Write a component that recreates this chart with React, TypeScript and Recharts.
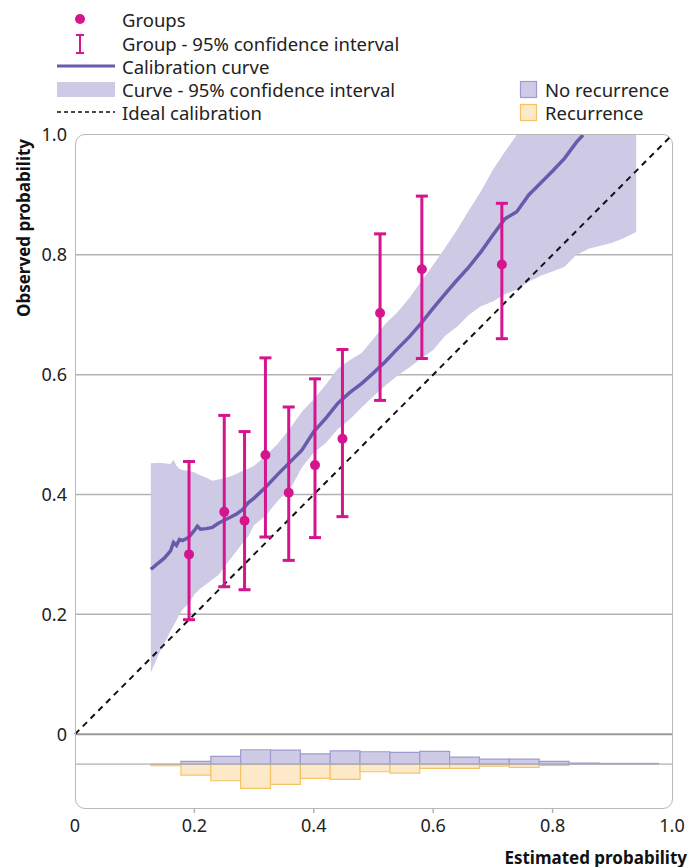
import React from "react";
import {
  ComposedChart,
  Area,
  Line,
  Scatter,
  ErrorBar,
  XAxis,
  YAxis,
  CartesianGrid,
  ReferenceLine,
  ReferenceArea,
} from "recharts";

// ---------- Calibration curve and its 95% confidence band ----------
const curveX = [
  0.127, 0.14, 0.15, 0.16, 0.165, 0.17, 0.175, 0.18, 0.19, 0.2, 0.205, 0.21, 0.22, 0.23, 0.24,
  0.25, 0.26, 0.27, 0.28, 0.29, 0.3, 0.32, 0.34, 0.36, 0.38, 0.4, 0.42, 0.44, 0.46, 0.48, 0.5,
  0.52, 0.54, 0.56, 0.58, 0.6, 0.62, 0.64, 0.66, 0.68, 0.7, 0.72, 0.74, 0.76, 0.78, 0.8, 0.82,
  0.84, 0.851, 0.86, 0.88, 0.9, 0.92, 0.94,
];
const curveCal: (number | null)[] = [
  0.275, 0.286, 0.294, 0.306, 0.32, 0.315, 0.325, 0.323, 0.328, 0.34, 0.347, 0.342, 0.343, 0.345,
  0.352, 0.357, 0.362, 0.367, 0.374, 0.386, 0.394, 0.413, 0.434, 0.454, 0.474, 0.505, 0.527,
  0.552, 0.57, 0.585, 0.603, 0.622, 0.643, 0.663, 0.686, 0.711, 0.735, 0.758, 0.78, 0.805, 0.833,
  0.86, 0.872, 0.9, 0.92, 0.94, 0.961, 0.988, 1.0, null, null, null, null, null,
];
const bandLo = [
  0.103, 0.133, 0.152, 0.172, 0.181, 0.19, 0.2, 0.208, 0.217, 0.233, 0.238, 0.243, 0.25, 0.258,
  0.265, 0.279, 0.292, 0.305, 0.318, 0.33, 0.349, 0.365, 0.39, 0.408, 0.445, 0.47, 0.486, 0.509,
  0.525, 0.545, 0.564, 0.582, 0.598, 0.612, 0.627, 0.641, 0.665, 0.68, 0.7, 0.714, 0.722, 0.734,
  0.742, 0.755, 0.765, 0.772, 0.78, 0.8, 0.805, 0.81, 0.815, 0.82, 0.828, 0.838,
];
const bandHi = [
  0.452, 0.453, 0.452, 0.451, 0.458, 0.448, 0.443, 0.441, 0.439, 0.437, 0.434, 0.432, 0.428,
  0.423, 0.425, 0.427, 0.43, 0.434, 0.439, 0.443, 0.448, 0.465, 0.485, 0.51, 0.538, 0.559, 0.583,
  0.61, 0.624, 0.636, 0.66, 0.685, 0.704, 0.728, 0.756, 0.783, 0.812, 0.842, 0.875, 0.906, 0.942,
  0.972, 1.0, 1.0, 1.0, 1.0, 1.0, 1.0, 1.0, 1.0, 1.0, 1.0, 1.0, 1.0,
];

// ---------- Groups with 95% confidence intervals ----------
const groupX = [0.191, 0.25, 0.284, 0.319, 0.358, 0.402, 0.448, 0.511, 0.581, 0.715];
const groupY = [0.3, 0.371, 0.356, 0.466, 0.403, 0.449, 0.493, 0.703, 0.776, 0.784];
const groupLo = [0.191, 0.246, 0.241, 0.329, 0.29, 0.328, 0.363, 0.557, 0.627, 0.66];
const groupHi = [0.455, 0.532, 0.505, 0.628, 0.546, 0.593, 0.642, 0.835, 0.898, 0.886];

// ---------- Distribution histogram (heights in plot units around the baseline) ----------
const binEdges = [
  0.1275, 0.1775, 0.2275, 0.2775, 0.3275, 0.3775, 0.4275, 0.4775, 0.5275, 0.5775, 0.6275, 0.6775,
  0.7275, 0.7775, 0.8275, 0.8775, 0.9275, 0.9775,
];
const noRecurrence = [
  0, 0.0044, 0.0128, 0.0239, 0.0233, 0.0172, 0.0222, 0.0206, 0.0194, 0.0211, 0.0117, 0.0083,
  0.0083, 0.0044, 0.0017, 0.0011, 0.0011,
];
const recurrence = [
  0.0028, 0.0183, 0.0278, 0.0406, 0.0339, 0.0239, 0.0256, 0.0128, 0.015, 0.0072, 0.0072, 0.0033,
  0.0056, 0.0022, 0, 0, 0,
];
const HIST_BASE = -0.05;

const xTicks = [0, 0.2, 0.4, 0.6, 0.8, 1.0];
const yTicks = [0, 0.2, 0.4, 0.6, 0.8, 1.0];
const gridValues = [0.2, 0.4, 0.6, 0.8];

const MAGENTA = "#d4158e";
const PURPLE = "#6a5aab";
const BAND = "#cecae6";
const FONT = "'Noto Sans', 'DejaVu Sans', sans-serif";

const chartData = curveX.map((x, i) => ({
  x,
  cal: curveCal[i],
  band: [bandLo[i], bandHi[i]],
}));

const groupData = groupX.map((x, i) => ({
  x,
  y: groupY[i],
  err: [groupY[i] - groupLo[i], groupHi[i] - groupY[i]],
}));

const fmt = (v: number) => (v === 0 ? "0" : v.toFixed(1));

const XTick = (props: any) => {
  const { x, y, payload } = props;
  const v = payload.value;
  const showLine = v > 0.01 && v < 0.99;
  return (
    <g>
      {showLine && <line x1={x} x2={x} y1={y - 10} y2={y - 5} stroke="#b3b3b3" strokeWidth={1.5} />}
      <text x={x} y={y} dy="0.75em" textAnchor="middle" fontSize={18} fill="#222" fontFamily={FONT}>
        {fmt(v)}
      </text>
    </g>
  );
};

export default function App() {
  return (
    <div style={{ position: "absolute", left: 0, top: 0, width: 691, height: 867, background: "#fff" }}>
      <ComposedChart
        width={691}
        height={867}
        data={chartData}
        margin={{ top: 135, right: 19, bottom: 0, left: 0 }}
      >
        <CartesianGrid vertical={false} horizontalValues={gridValues} stroke="#b3b3b3" strokeWidth={1.5} />
        <XAxis
          type="number"
          dataKey="x"
          domain={[0, 1]}
          ticks={xTicks}
          height={59}
          axisLine={false}
          tickLine={false}
          tickSize={5}
          tickMargin={5}
          tick={<XTick />}
          interval={0}
          allowDataOverflow
        />
        <YAxis
          type="number"
          domain={[-0.1233, 1]}
          ticks={yTicks}
          width={75}
          axisLine={false}
          tickLine={false}
          tickFormatter={fmt}
          tick={{ fontSize: 18, fill: "#222", fontFamily: FONT }}
          interval={0}
          allowDataOverflow
        />
        <ReferenceLine y={0} stroke="#999" strokeWidth={2} />
        <ReferenceLine y={HIST_BASE} stroke="#b0b0b0" strokeWidth={1.2} />
        {binEdges.slice(0, -1).map((x1, i) =>
          recurrence[i] > 0 ? (
            <ReferenceArea
              key={"r" + i}
              x1={x1}
              x2={binEdges[i + 1]}
              y1={HIST_BASE - recurrence[i]}
              y2={HIST_BASE}
              fill="#fde9c8"
              fillOpacity={1}
              stroke="#f6c266"
              strokeWidth={1.2}
            />
          ) : null
        )}
        {binEdges.slice(0, -1).map((x1, i) =>
          noRecurrence[i] > 0 ? (
            <ReferenceArea
              key={"n" + i}
              x1={x1}
              x2={binEdges[i + 1]}
              y1={HIST_BASE}
              y2={HIST_BASE + noRecurrence[i]}
              fill="#cfcbe6"
              fillOpacity={1}
              stroke="#a299cf"
              strokeWidth={1.2}
            />
          ) : null
        )}
        <Area
          type="linear"
          dataKey="band"
          stroke="none"
          fill={BAND}
          fillOpacity={1}
          isAnimationActive={false}
          activeDot={false}
        />
        <ReferenceLine
          segment={[
            { x: 0, y: 0 },
            { x: 1, y: 1 },
          ]}
          stroke="#111"
          strokeWidth={2}
          strokeDasharray="6 5"
        />
        <Line
          type="linear"
          dataKey="cal"
          stroke={PURPLE}
          strokeWidth={3.5}
          dot={false}
          activeDot={false}
          isAnimationActive={false}
        />
        <Scatter
          data={groupData}
          dataKey="y"
          fill={MAGENTA}
          isAnimationActive={false}
          shape={(p: any) => <circle cx={p.cx} cy={p.cy} r={5} fill={MAGENTA} />}
        >
          <ErrorBar dataKey="err" direction="y" width={6} stroke={MAGENTA} strokeWidth={3} />
        </Scatter>
      </ComposedChart>

      {/* plot frame */}
      <div
        style={{
          position: "absolute",
          left: 75,
          top: 134,
          width: 598,
          height: 675,
          border: "1.5px solid #b8b8b8",
          borderRadius: 10,
          boxSizing: "border-box",
          pointerEvents: "none",
        }}
      />

      {/* legend and axis titles */}
      <svg
        width={691}
        height={867}
        style={{ position: "absolute", left: 0, top: 0, pointerEvents: "none" }}
        fontFamily={FONT}
      >
        <circle cx={80} cy={19} r={5} fill={MAGENTA} />
        <line x1={80} x2={80} y1={35} y2={53} stroke={MAGENTA} strokeWidth={2} />
        <line x1={76} x2={84} y1={35} y2={35} stroke={MAGENTA} strokeWidth={2} />
        <line x1={76} x2={84} y1={53} y2={53} stroke={MAGENTA} strokeWidth={2} />
        <line x1={57} x2={115} y1={66} y2={66} stroke={PURPLE} strokeWidth={3} />
        <rect x={57} y={82} width={58} height={15} fill={BAND} />
        <line x1={57} x2={115} y1={112} y2={112} stroke="#111" strokeWidth={1.5} strokeDasharray="4 3" />
        {[
          ["Groups", 19],
          ["Group - 95% confidence interval", 43],
          ["Calibration curve", 66],
          ["Curve - 95% confidence interval", 89],
          ["Ideal calibration", 112],
        ].map(([t, y]) => (
          <text key={t as string} x={122} y={y as number} dominantBaseline="central" fontSize={18.5} fill="#222">
            {t}
          </text>
        ))}
        <rect x={520.5} y={81.5} width={16} height={16} fill="#cfcbe6" stroke="#a299cf" strokeWidth={1.2} />
        <rect x={520.5} y={104.5} width={16} height={16} fill="#fde9c8" stroke="#f6c266" strokeWidth={1.2} />
        <text x={545} y={89} dominantBaseline="central" fontSize={18.5} fill="#222">
          No recurrence
        </text>
        <text x={545} y={112} dominantBaseline="central" fontSize={18.5} fill="#222">
          Recurrence
        </text>
        <text x={687} y={857} dominantBaseline="central" textAnchor="end" fontSize={17} fontWeight="bold" fill="#111">
          Estimated probability
        </text>
        <text
          x={23}
          y={228}
          dominantBaseline="central"
          textAnchor="middle"
          fontSize={17}
          fontWeight="bold"
          fill="#111"
          transform="rotate(-90 23 228)"
        >
          Observed probability
        </text>
      </svg>
    </div>
  );
}
